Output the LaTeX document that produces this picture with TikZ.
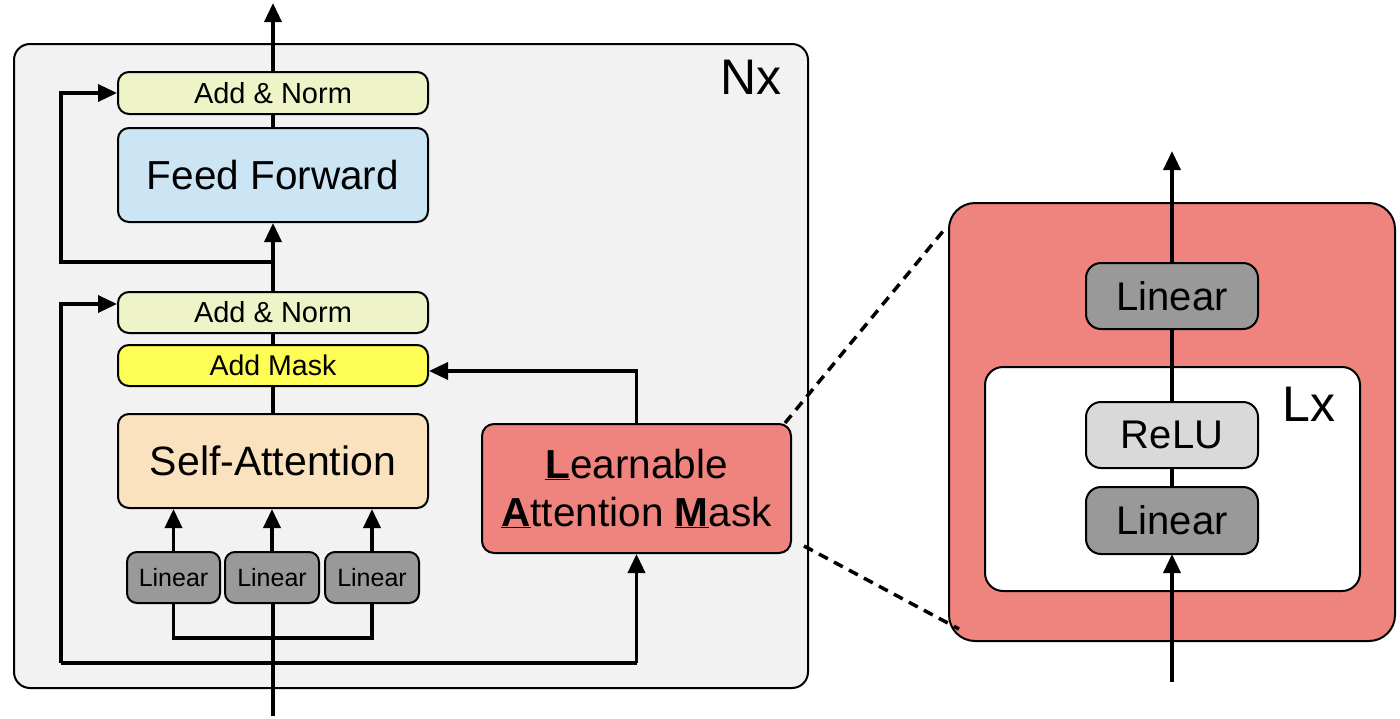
\documentclass[tikz,border=0pt]{standalone}
\usepackage{fontspec}
\setmainfont{Liberation Sans}
\usetikzlibrary{arrows.meta,calc}
\definecolor{bgout}{HTML}{F2F2F2}
\definecolor{cnorm}{HTML}{EEF3C8}
\definecolor{cff}{HTML}{CCE5F4}
\definecolor{cmask}{HTML}{FDFD55}
\definecolor{csa}{HTML}{FAE2BF}
\definecolor{clam}{HTML}{EF837D}
\definecolor{clin}{HTML}{999999}
\definecolor{crelu}{HTML}{D9D9D9}
\tikzset{
  box/.style={draw=black, line width=2pt, rounded corners=11pt, inner sep=0pt, align=center},
  conn/.style={line width=3.5pt},
  arr/.style={line width=3.5pt, -{Triangle[length=19pt,width=17pt]}},
  dashconn/.style={line width=3.5pt, dash pattern=on 10pt off 7pt},
}
\newcommand{\fs}[1]{\fontsize{#1}{#1}\selectfont}
\newcommand{\ubl}[1]{\underline{\textbf{#1}}}
\begin{document}
\begin{tikzpicture}[x=1pt,y=-1pt]
\useasboundingbox (0,0) rectangle (1400,718);
% containers
\draw[line width=2pt, fill=bgout, rounded corners=16pt] (14,44) rectangle (808,688);
\draw[line width=2pt, fill=clam, rounded corners=26pt] (949,203) rectangle (1395,641);
\draw[line width=2pt, fill=white, rounded corners=18pt] (985,367) rectangle (1360,591);
\node[inner sep=0pt] (nx) at (751,77) {\fs{50}Nx};
\node[inner sep=0pt] (lx) at (1309,404) {\fs{50}Lx};
% coordinates
\coordinate (out) at (273,3);
\coordinate (r1) at (273,262);
\coordinate (r1c) at (61,262);
\coordinate (in) at (273,716);
\coordinate (br) at (273,638);
\coordinate (lp) at (273,663);
\coordinate (lpl) at (61,663);
\coordinate (rin) at (1172,682);
\coordinate (rout) at (1172,151);
\coordinate (zu1) at (785,423);
\coordinate (zu2) at (944,230);
\coordinate (zl1) at (804,546);
\coordinate (zl2) at (959,629);
% connectors (drawn before nodes)
\draw[conn] (in) -- (273,603);
\draw[conn] (lp) -- (lpl);
\draw[conn] (lp) -- (636.5,663);
\draw[arr] (rin) -- (1172,554);
\draw[conn] (1172,487) -- (1172,468);
\draw[conn] (1172,402) -- (1172,329);
\draw[arr] (1172,263) -- (rout);
% left nodes
\node[box, fill=cnorm, minimum width=310pt, minimum height=42pt] (an1) at (273,93) {\fs{29}Add \& Norm};
\node[box, fill=cff, minimum width=310pt, minimum height=94pt] (ff) at (273,175) {\fs{40.5}Feed Forward};
\node[box, fill=cnorm, minimum width=310pt, minimum height=41pt] (an2) at (273,312.5) {\fs{29}Add \& Norm};
\node[box, fill=cmask, minimum width=310pt, minimum height=41pt] (am) at (273,365.5) {\fs{28.5}Add Mask};
\node[box, fill=csa, minimum width=310pt, minimum height=94pt] (sa) at (273,461) {\fs{41}Self-Attention};
\node[box, fill=clin, minimum width=93pt, minimum height=51pt, rounded corners=10pt] (lin1) at (173.5,577.5) {\fs{25}Linear};
\node[box, fill=clin, minimum width=94pt, minimum height=51pt, rounded corners=10pt] (lin2) at (272,577.5) {\fs{25}Linear};
\node[box, fill=clin, minimum width=94pt, minimum height=51pt, rounded corners=10pt] (lin3) at (372,577.5) {\fs{25}Linear};
\node[box, fill=clam, minimum width=309pt, minimum height=129pt, rounded corners=12pt,
  font=\fontsize{40.5}{48}\selectfont] (lam) at (636.5,488.5)
  {\ubl{L}earnable\\\ubl{A}ttention \ubl{M}ask};
% right nodes
\node[box, fill=clin, minimum width=172pt, minimum height=66pt, rounded corners=15pt] (rlin1) at (1172,296) {\fs{40}Linear};
\node[box, fill=crelu, minimum width=172pt, minimum height=66pt, rounded corners=15pt] (relu) at (1172,435) {\fs{40}ReLU};
\node[box, fill=clin, minimum width=172pt, minimum height=67pt, rounded corners=15pt] (rlin2) at (1172,520.5) {\fs{40}Linear};
% left connectors between nodes
\draw[arr] (an1.north) -- (out);
\draw[conn] (ff.north) -- (an1.south);
\draw[arr] (an2.north) -- (ff.south);
\draw[arr] (r1) -- (r1c) |- (an1.west);
\draw[arr] (lpl) |- ($(an2.west)+(0,-8.5)$);
\draw[arr] (636.5,663) -- (lam.south);
\draw[arr] (lam.north) |- ($(am.east)+(0,5.5)$);
\draw[conn] (an2.south) -- (am.north);
\draw[conn] (am.south) -- (sa.north);
\draw[conn] (lin1.south) -- (lin1.south |- br) -- (lin3.south |- br) -- (lin3.south);
\draw[arr] (lin1.north) -- (lin1.north |- sa.south);
\draw[arr] (lin2.north) -- (lin2.north |- sa.south);
\draw[arr] (lin3.north) -- (lin3.north |- sa.south);
% zoom lines
\draw[dashconn] (zu1) -- (zu2);
\draw[dashconn] (zl1) -- (zl2);
\end{tikzpicture}
\end{document}
